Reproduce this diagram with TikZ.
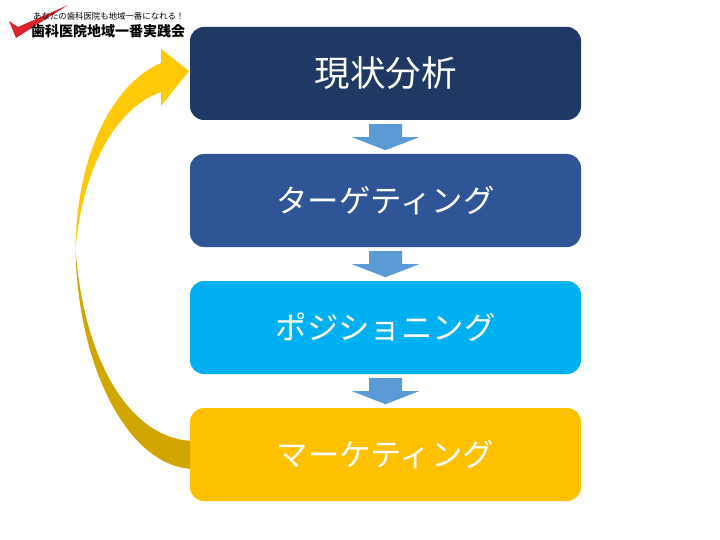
\documentclass[tikz,border=0pt]{standalone}
\usepackage{fontspec}
\setmainfont{Noto Sans CJK JP}
\usetikzlibrary{calc}
\definecolor{boxa}{HTML}{1F3864}
\definecolor{boxb}{HTML}{2F5597}
\definecolor{boxc}{HTML}{00B0F0}
\definecolor{boxd}{HTML}{FFC000}
\definecolor{flow}{HTML}{5B9BD5}
\definecolor{loopup}{HTML}{FFC90A}
\definecolor{loopdown}{HTML}{D2A600}
\definecolor{logored}{HTML}{D9262E}
\tikzset{
  stagebox/.style={draw=none,rounded corners=14pt,minimum width=391pt,minimum height=93pt,inner sep=0pt,text=white,font=\fontsize{31.4pt}{36pt}\selectfont},
  flowarrow/.style={fill=flow,draw=none},
  logotext/.style={inner sep=0pt,text=black,anchor=west}
}
\newcommand{\blockdown}[1]{%
  \fill[flowarrow] ($(#1.south)+(-16.5,4)$) -- ($(#1.south)+(16.5,4)$) -- ($(#1.south)+(16.5,17)$)
    -- ($(#1.south)+(33.5,17)$) -- ($(#1.south)+(0,30)$) -- ($(#1.south)+(-33.5,17)$) -- ($(#1.south)+(-16.5,17)$) -- cycle;}
\begin{document}
\begin{tikzpicture}[x=1pt,y=-1pt]
\useasboundingbox (0,0) rectangle (720,540);
\fill[white] (0,0) rectangle (720,540);
% loop arrow
\fill[loopdown] (75.5,250) .. controls (78,370) and (130,469) .. (195,469)
  -- (195,441) .. controls (135,441) and (85,370) .. (75.5,250) -- cycle;
\fill[loopup] (75.5,250) .. controls (76,160) and (110,85) .. (161,63)
  -- (161,49) -- (189,71) -- (161,106) -- (161,92)
  .. controls (115,108) and (82,170) .. (75.5,250) -- cycle;
% stages
\node[stagebox,fill=boxa,font=\fontsize{35.5pt}{40pt}\selectfont] (genjo) at (385.5,73.5) {現状分析};
\node[stagebox,fill=boxb] (target) at (385.5,200.5) {ターゲティング};
\node[stagebox,fill=boxc] (position) at (385.5,327.5) {ポジショニング};
\node[stagebox,fill=boxd] (market) at (385.5,454.5) {マーケティング};
\blockdown{genjo}
\blockdown{target}
\blockdown{position}
% logo
\fill[logored] (9,21) -- (16,38) -- (68,5) -- (18,27) -- cycle;
\node[logotext,font=\fontsize{8.4pt}{10pt}\selectfont] (slogan) at (33,16) {あなたの歯科医院も地域一番になれる！};
\node[logotext,font=\fontsize{14pt}{16pt}\bfseries\selectfont] (brand) at (31,31) {歯科医院地域一番実践会};
\end{tikzpicture}
\end{document}
